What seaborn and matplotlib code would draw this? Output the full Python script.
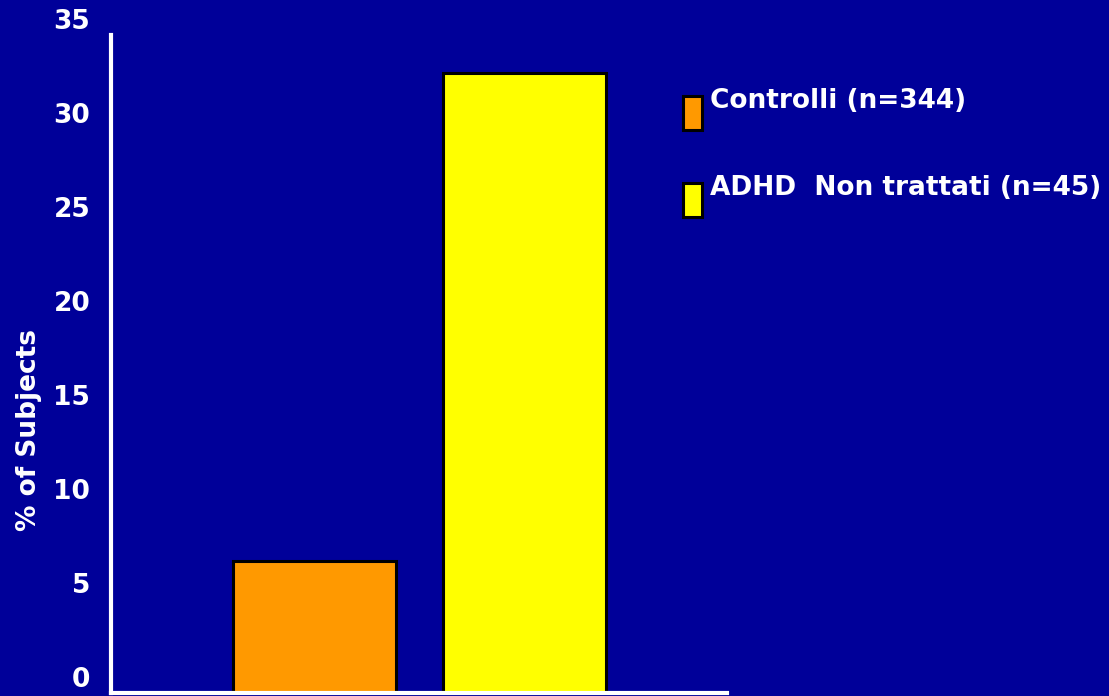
import matplotlib
matplotlib.use("Agg")
import matplotlib.pyplot as plt
from matplotlib.patches import Rectangle
import seaborn as sns
import pandas as pd

groups = ["Controlli (n=344)", "ADHD  Non trattati (n=45)"]
percent_subjects = [7, 33]
bar_colors = ["#FF9900", "#FFFF00"]
y_ticks = [0, 5, 10, 15, 20, 25, 30, 35]

bg = "#000099"
sns.set_theme(style="white")
plt.rcParams["font.family"] = ["DejaVu Sans"]

df = pd.DataFrame({"group": groups, "value": percent_subjects})

W, H = 1109, 696
fig = plt.figure(figsize=(W / 100, H / 100), dpi=100, facecolor=bg)
ax = fig.add_axes([0.1001, 0.0043, 0.5555, 0.9454])
ax.set_facecolor(bg)

sns.barplot(data=df, x="group", y="value", hue="group", palette=bar_colors,
            saturation=1, width=0.776, edgecolor="black", linewidth=2.2,
            legend=False, ax=ax)

ax.set_xlim(-0.969, 1.964)
ax.set_ylim(0, 35)
ax.set_yticks(y_ticks)
ax.set_yticklabels([str(t) for t in y_ticks], color="white", fontsize=19,
                   fontweight="bold", va="bottom")
ax.tick_params(axis="y", length=0, pad=15)
ax.set_xticks([])
ax.set_xlabel("")
ax.set_ylabel("% of Subjects", color="white", fontsize=19, fontweight="bold")
ax.yaxis.label.set_va("center")
ax.yaxis.set_label_coords(-0.133, 0.40)

for side in ["top", "right"]:
    ax.spines[side].set_visible(False)
for side in ["left", "bottom"]:
    ax.spines[side].set_color("white")
    ax.spines[side].set_linewidth(3)

# Legend keys: tall swatches with the label set slightly above each one
key_tops = [96, 183]
for label, color, top in zip(groups, bar_colors, key_tops):
    fig.add_artist(Rectangle((683 / W, 1 - (top + 34) / H), 19 / W, 34 / H,
                             facecolor=color, edgecolor="black", linewidth=2.2,
                             transform=fig.transFigure))
    fig.text(710 / W, 1 - (top + 12) / H, label, color="white", fontsize=19,
             fontweight="bold", ha="left", va="baseline")

fig.savefig("out.png", dpi=100, facecolor=bg)
